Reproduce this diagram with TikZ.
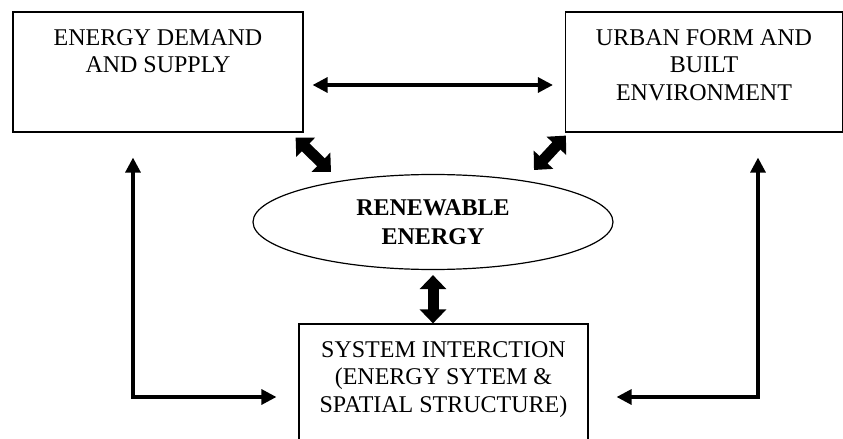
\documentclass[tikz,border=0pt]{standalone}
\usepackage{fontspec}
\setmainfont{Liberation Serif}
\usetikzlibrary{shapes.geometric,arrows.meta}
\newcommand{\boxtext}[1]{\parbox[c][60pt][t]{132pt}{\centering\fontsize{12}{13.75}\selectfont\rule{0pt}{16.5pt}#1}}
\begin{document}
\begin{tikzpicture}[x=0.5pt,y=-0.5pt,
    box/.style={draw, line width=0.6pt, minimum height=60pt, inner sep=0pt},
    oval/.style={draw, ellipse, line width=0.6pt, minimum width=180pt, minimum height=47.5pt, inner sep=0pt, align=center, font=\fontsize{12}{14.5}\selectfont\bfseries},
    link/.style={line width=1.6pt, {Triangle[length=7.5pt,width=7.5pt]}-{Triangle[length=7.5pt,width=7.5pt]}},
    fatlink/.style={line width=5.5pt, {Triangle[length=7pt,width=13pt]}-{Triangle[length=7pt,width=13pt]}}]
        \useasboundingbox (0,0) rectangle (843,439);

        \node [box, minimum width=145pt] (D) at (158,72) {\boxtext{ENERGY DEMAND\\AND SUPPLY}};
        \node [box, minimum width=138.5pt] (U) at (704,72) {\boxtext{URBAN FORM AND\\BUILT\\ENVIRONMENT}};
        \node [oval] (R) at (433,222) {RENEWABLE\\ENERGY};
        \node [box, minimum width=144.5pt] (S) at (443.5,384) {\boxtext{SYSTEM INTERCTION\\(ENERGY SYTEM \&\\SPATIAL STRUCTURE)}};

        \draw [link] ([shift={(9,13)}]D.east) -- ([shift={(-12,13)}]U.west);
        \draw [fatlink] ([shift={(-8,5)}]D.south east) -- ([shift={(-102,-50)}]R.center);
        \draw [fatlink] ([shift={(1,3)}]U.south west) -- ([shift={(101,-52)}]R.center);
        \draw [fatlink] ([yshift=-2.5pt]R.south) -- (R.south |- S.north);

        \draw [link] ([shift={(-25,25)}]D.south) |- ([shift={(-22,13)}]S.west);
        \draw [link] ([shift={(54,25)}]U.south) |- ([shift={(28,13)}]S.east);
\end{tikzpicture}
\end{document}
